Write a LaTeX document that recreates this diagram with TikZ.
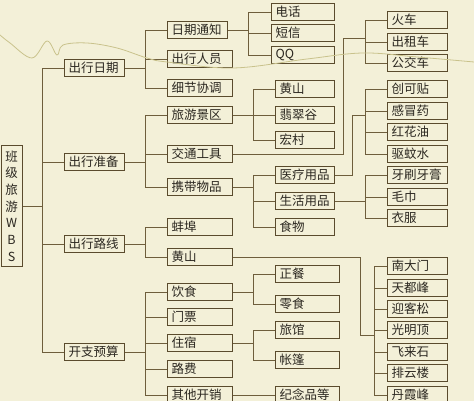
\documentclass[tikz,border=0pt]{standalone}
\usepackage{fontspec}
\newfontfamily\cjk{Noto Sans CJK SC}
\definecolor{bgc}{HTML}{F3F0D8}
\definecolor{boxc}{HTML}{5A4B2D}
\definecolor{lnc}{HTML}{6E5E3C}
\definecolor{txc}{HTML}{2B2720}
\definecolor{crv}{HTML}{C9C28C}
\tikzset{
  box/.style={draw=boxc, line width=1pt, fill=bgc, inner xsep=4pt, inner ysep=0pt,
    minimum height=17pt, text=txc, align=left,
    font=\cjk\fontsize{12.5}{15}\selectfont},
  ln/.style={draw=lnc, line width=0.9pt},
  wave/.style={draw=crv, line width=0.8pt}
}
\newcommand\bx[5]{%
  \pgfmathsetmacro\bxw{#3-#2}\pgfmathsetmacro\bxt{#3-#2-8}%
  \node[box, anchor=west, minimum width=\bxw pt, text width=\bxt pt] (#1) at (#2,#4) {#5};}
\newcommand\grp[4]{% parent, first, last, junction
  \draw[ln] (#1.east) -- (#1.east -| #4);
  \draw[ln] (#2.west) -- (#2.west -| #4) |- (#3.west);}
\newcommand\midc[2]{\draw[ln] (#1.west) -- (#1.west -| #2);}
\begin{document}
\begin{tikzpicture}[x=1pt,y=-1pt]
\clip (0,0) rectangle (474,401);
\fill[bgc] (0,0) rectangle (474,401);
% coordinates of junctions
\coordinate (tr) at (42,0);
\coordinate (J1) at (145,0);
\coordinate (J2) at (248,0);
\coordinate (J3) at (253,0);
\coordinate (J4) at (365,0);
\coordinate (J5) at (374,0);
% root
\node[box, anchor=north west, minimum width=21pt, minimum height=121pt, align=center,
  inner xsep=0pt, font=\cjk\fontsize{12.5}{16.7}\selectfont] (root) at (0.6,145)
  {班\\级\\旅\\游\\W\\B\\S};
% level 1
\bx{a1}{64}{124}{68}{出行日期}
\bx{a2}{64}{124}{162}{出行准备}
\bx{a3}{64}{124}{244}{出行路线}
\bx{a4}{64}{124}{352}{开支预算}
% level 2
\bx{b1}{167}{227}{30}{日期通知}
\bx{b2}{167}{232}{59}{出行人员}
\bx{b3}{167}{232}{88}{细节协调}
\bx{b4}{167}{232}{115}{旅游景区}
\bx{b5}{167}{232}{154}{交通工具}
\bx{b6}{167}{232}{187}{携带物品}
\bx{b7}{167}{232}{227}{蚌埠}
\bx{b8}{167}{232}{257}{黄山}
\bx{b9}{167}{232}{292}{饮食}
\bx{b10}{167}{232}{317}{门票}
\bx{b11}{167}{232}{343}{住宿}
\bx{b12}{167}{232}{369}{路费}
\bx{b13}{167}{232}{395}{其他开销}
% level 3
\bx{c1}{271}{334}{12}{电话}
\bx{c2}{271}{334}{33}{短信}
\bx{c3}{271}{334}{55}{QQ}
\bx{c4}{275}{334}{89}{黄山}
\bx{c5}{275}{334}{115}{翡翠谷}
\bx{c6}{275}{334}{140}{宏村}
\bx{c7}{275}{334}{175}{医疗用品}
\bx{c8}{275}{334}{201}{生活用品}
\bx{c9}{275}{334}{227}{食物}
\bx{c10}{275}{339}{274}{正餐}
\bx{c11}{275}{339}{304}{零食}
\bx{c12}{275}{339}{330}{旅馆}
\bx{c13}{275}{339}{360}{帐篷}
\bx{c14}{275}{339}{395}{纪念品等}
% level 4
\bx{d1}{387}{447}{20}{火车}
\bx{d2}{387}{447}{42}{出租车}
\bx{d3}{387}{447}{63}{公交车}
\bx{d4}{387}{447}{89}{创可贴}
\bx{d5}{387}{447}{111}{感冒药}
\bx{d6}{387}{447}{132}{红花油}
\bx{d7}{387}{447}{154}{驱蚊水}
\bx{d8}{387}{447}{175}{牙刷牙膏}
\bx{d9}{387}{447}{197}{毛巾}
\bx{d10}{387}{447}{218}{衣服}
\bx{d11}{387}{447}{266}{南大门}
\bx{d12}{387}{447}{288}{天都峰}
\bx{d13}{387}{447}{309}{迎客松}
\bx{d14}{387}{447}{330}{光明顶}
\bx{d15}{387}{447}{352}{飞来石}
\bx{d16}{387}{447}{373}{排云楼}
\bx{d17}{387}{447}{395}{丹霞峰}
% connectors: root and level 1
\draw[ln] (root.east) -- (root.east -| tr);
\draw[ln] (a1.west) -- (a1.west -| tr) |- (a4.west);
\midc{a2}{tr}\midc{a3}{tr}
% level 1 -> level 2
\grp{a1}{b1}{b3}{J1}\midc{b2}{J1}
\grp{a2}{b4}{b6}{J1}\midc{b5}{J1}
\grp{a3}{b7}{b8}{J1}
\grp{a4}{b9}{b13}{J1}\midc{b10}{J1}\midc{b11}{J1}\midc{b12}{J1}
% level 2 -> level 3
\grp{b1}{c1}{c3}{J2}\midc{c2}{J2}
\grp{b4}{c4}{c6}{J3}\midc{c5}{J3}
\grp{b6}{c7}{c9}{J3}\midc{c8}{J3}
\grp{b9}{c10}{c11}{J3}
\grp{b11}{c12}{c13}{J3}
\draw[ln] (b13.east) -- (c14.west);
% transport
\coordinate (k1) at (343,38);
\draw[ln] (b5.east) -| (k1) -- (k1 -| J4);
\draw[ln] (d1.west) -- (d1.west -| J4) |- (d3.west);
\midc{d2}{J4}
% medical
\coordinate (k2) at (352,115);
\draw[ln] (c7.east) -| (k2) -- (k2 -| J4);
\draw[ln] (d4.west) -- (d4.west -| J4) |- (d7.west);
\midc{d5}{J4}\midc{d6}{J4}
% daily goods
\grp{c8}{d8}{d10}{J4}\midc{d9}{J4}
% Huangshan spots
\coordinate (k3) at (360,335);
\draw[ln] (b8.east) -| (k3) -- (k3 -| J5);
\draw[ln] (d11.west) -- (d11.west -| J5) |- (d17.west);
\midc{d12}{J5}\midc{d13}{J5}\midc{d14}{J5}\midc{d15}{J5}\midc{d16}{J5}
% stray curve
\draw[wave] plot[smooth, tension=0.6] coordinates {(0,35) (10,43) (32,58) (47,41) (57,55) (63,45) (87,43) (117,48) (147,58) (167,62) (233,68) (307,59) (363,53) (417,57) (474,62)};
\end{tikzpicture}
\end{document}
